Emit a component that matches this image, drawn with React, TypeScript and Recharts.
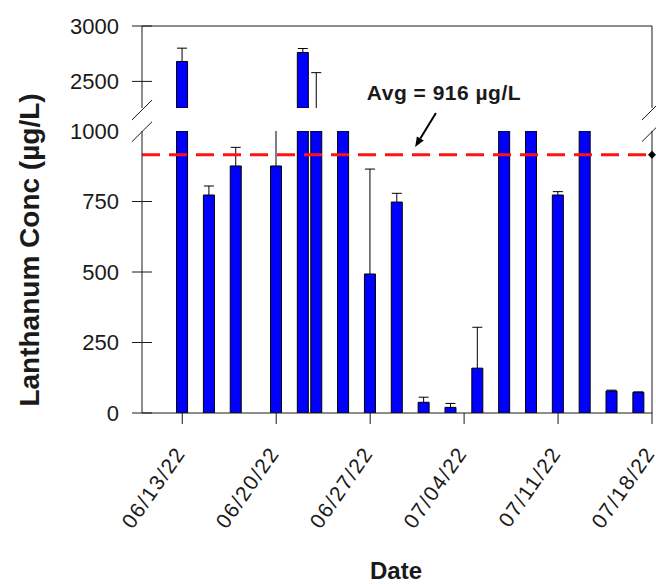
import React from "react"
import {
  ComposedChart,
  Bar,
  XAxis,
  YAxis,
  ReferenceLine,
  ReferenceDot,
  Label,
} from "recharts"

const FONT = "Arial, 'Liberation Sans', sans-serif"
const INK = "#1a1a1a"

// sampling dates and measured La concentration (ug/L), upper error bar length
const START_DATE = "06/10/22"
const END_DATE = "07/18/22"
const sampleDates = [
  "06/13/22", "06/15/22", "06/17/22", "06/20/22", "06/22/22", "06/23/22",
  "06/25/22", "06/27/22", "06/29/22", "07/01/22", "07/03/22", "07/05/22",
  "07/07/22", "07/09/22", "07/11/22", "07/13/22", "07/15/22", "07/17/22",
]
const concentrations = [
  2680, 773, 876, 876, 2761, 1400,
  1150, 493, 748, 38, 20, 159,
  1200, 1250, 773, 1140, 78, 73,
]
const upperErrors = [
  120, 32, 66, 300, 36, 1179,
  0, 372, 31, 18, 14, 145,
  0, 0, 12, 0, 3, 2,
]
const dateTicks = ["06/13/22", "06/20/22", "06/27/22", "07/04/22", "07/11/22", "07/18/22"]
const lowerTicks = [0, 250, 500, 750, 1000]
const upperTicks = [2500, 3000]
const AVERAGE = 916

// broken axis ranges
const LOWER_MAX = 1000
const UPPER_MIN = 2260
const UPPER_MAX = 3000

const dayOf = (label: string) => {
  const [m, d, y] = label.split("/").map(Number)
  const [m0, d0, y0] = START_DATE.split("/").map(Number)
  return (Date.UTC(2000 + y, m - 1, d) - Date.UTC(2000 + y0, m0 - 1, d0)) / 86400000
}
const LAST_DAY = dayOf(END_DATE)
const dayTicks = dateTicks.map(dayOf)
const labelOfDay = (day: number) => dateTicks[dayTicks.indexOf(day)] ?? ""

// each panel only shows the part of a bar / error bar inside its range
const data = sampleDates.map((d, i) => {
  const v = concentrations[i]
  const top = v + upperErrors[i]
  return {
    day: dayOf(d),
    low: Math.min(v, LOWER_MAX),
    lowErr: upperErrors[i] > 0 && v < LOWER_MAX ? [v, Math.min(top, LOWER_MAX)] : null,
    lowCap: top <= LOWER_MAX,
    high: v >= UPPER_MIN ? v : null,
    highErr: upperErrors[i] > 0 && top > UPPER_MIN ? [Math.max(v, UPPER_MIN), top] : null,
    highCap: true,
  }
})

const TICK = 10
const TICK_GAP = 13

function ValueTick(props: any) {
  const { x, y, payload, skipLine } = props
  const axisX = x + TICK_GAP + TICK
  return (
    <g>
      {!skipLine && (
        <line x1={axisX - TICK} x2={axisX + TICK} y1={y} y2={y} stroke={INK} />
      )}
      <text x={x} y={y} dy="0.36em" textAnchor="end" fontSize={22} fill={INK} fontFamily={FONT}>
        {payload.value}
      </text>
    </g>
  )
}

function DateTick(props: any) {
  const { x, y, payload } = props
  const ax = x - 2
  const ay = y + 23
  return (
    <text
      x={ax}
      y={ay}
      dy="0.35em"
      transform={`rotate(-55 ${ax} ${ay})`}
      textAnchor="end"
      fontSize={21}
      letterSpacing={1.5}
      fill={INK}
      fontFamily={FONT}
    >
      {labelOfDay(payload.value)}
    </text>
  )
}

// error bar drawn from a ranged bar: stem plus a cap when the top is not cut by the axis break
const whisker = (capKey: string) => (props: any) => {
  const { x, y, width, height, payload } = props
  if (!height) return <g />
  const cx = x + width / 2
  return (
    <g>
      <line x1={cx} x2={cx} y1={y} y2={y + height} stroke="#000" />
      {payload[capKey] && <line x1={cx - 5} x2={cx + 5} y1={y} y2={y} stroke="#000" />}
    </g>
  )
}

function Arrow(props: any) {
  const { x1, y1, x2, y2 } = props
  const a = Math.atan2(y2 - y1, x2 - x1)
  const len = 10
  const w = 4
  const bx = x2 - len * Math.cos(a)
  const by = y2 - len * Math.sin(a)
  const p1 = `${bx + w * Math.sin(a)},${by - w * Math.cos(a)}`
  const p2 = `${bx - w * Math.sin(a)},${by + w * Math.cos(a)}`
  return (
    <g>
      <line x1={x1} y1={y1} x2={bx} y2={by} stroke="#000" strokeWidth={2} />
      <polygon points={`${x2},${y2} ${p1} ${p2}`} fill="#000" />
    </g>
  )
}

const slash = (x: number, y: number) => [
  { x: x - 0.75, y },
  { x: x + 0.75, y: y + 71 },
]

export default function App() {
  return (
    <div style={{ position: "absolute", left: 0, top: 0, width: 656, height: 584, background: "#fff" }}>
      <div style={{ position: "absolute", left: 0, top: 0 }}>
        <ComposedChart
          width={656}
          height={584}
          data={data}
          margin={{ top: 131, right: 4, bottom: 51, left: 62 }}
        >
          <XAxis
            dataKey="day"
            type="number"
            domain={[0, LAST_DAY]}
            ticks={dayTicks}
            interval={0}
            allowDataOverflow
            height={120}
            tickSize={11}
            stroke={INK}
            tick={<DateTick />}
          >
            <Label
              content={() => (
                <text x={396} y={579} textAnchor="middle" fontSize={24} fontWeight="bold" fill={INK} fontFamily={FONT}>
                  Date
                </text>
              )}
            />
          </XAxis>
          <XAxis xAxisId="err" dataKey="day" type="number" domain={[0, LAST_DAY]} allowDataOverflow hide />
          <YAxis
            yAxisId="lo"
            type="number"
            domain={[0, LOWER_MAX]}
            ticks={lowerTicks}
            interval={0}
            allowDataOverflow
            width={80}
            tickSize={TICK}
            tickMargin={TICK_GAP}
            tickLine={false}
            stroke={INK}
            tick={(p: any) => <ValueTick {...p} skipLine={p.payload.value === LOWER_MAX} />}
          >
            <Label
              content={() => (
                <text x={29} y={250} transform="rotate(-90 29 250)" textAnchor="middle" dominantBaseline="central" fontSize={28} fontWeight="bold" fill={INK} fontFamily={FONT}>
                  Lanthanum Conc (µg/L)
                </text>
              )}
            />
          </YAxis>
          <YAxis
            yAxisId="loRight"
            orientation="right"
            mirror
            type="number"
            domain={[0, LOWER_MAX]}
            ticks={[250, 500, 750]}
            allowDataOverflow
            width={10}
            tickSize={TICK}
            tick={false}
            stroke={INK}
          />
          <Bar
            yAxisId="lo"
            dataKey="low"
            barSize={11}
            fill="#0000ff"
            stroke="#000"
            strokeWidth={1}
            isAnimationActive={false}
          />
          <Bar
            yAxisId="lo"
            xAxisId="err"
            dataKey="lowErr"
            barSize={11}
            shape={whisker("lowCap")}
            isAnimationActive={false}
          />
          <ReferenceLine
            yAxisId="lo"
            y={AVERAGE}
            stroke="#ff1414"
            strokeWidth={3}
            strokeDasharray="18 9"
          />
          <ReferenceDot
            yAxisId="lo"
            x={LAST_DAY}
            y={AVERAGE}
            ifOverflow="visible"
            shape={(p: any) => (
              <polygon
                points={`${p.cx},${p.cy - 4} ${p.cx + 4},${p.cy} ${p.cx},${p.cy + 4} ${p.cx - 4},${p.cy}`}
                fill="#000"
              />
            )}
          />
          <ReferenceDot
            yAxisId="lo"
            x={22.5}
            y={1138}
            ifOverflow="visible"
            shape={(p: any) => (
              <text x={p.cx} y={p.cy} textAnchor="middle" dominantBaseline="central" fontSize={21} fontWeight="bold" letterSpacing={0.5} fill={INK} fontFamily={FONT}>
                Avg = {AVERAGE} µg/L
              </text>
            )}
          />
          <ReferenceLine
            yAxisId="lo"
            ifOverflow="visible"
            segment={[{ x: 21.9, y: 1064 }, { x: 20.35, y: 943 }]}
            shape={<Arrow />}
          />
          {[0, LAST_DAY].map((x) =>
            [962, 1039].map((y) => (
              <ReferenceLine
                key={`${x}-${y}`}
                yAxisId="lo"
                ifOverflow="visible"
                segment={slash(x, y)}
                stroke={INK}
                strokeWidth={1}
              />
            ))
          )}
        </ComposedChart>
      </div>
      <div style={{ position: "absolute", left: 0, top: 0 }}>
        <ComposedChart
          width={656}
          height={140}
          data={data}
          margin={{ top: 26, right: 4, bottom: 32, left: 62 }}
        >
          <XAxis
            dataKey="day"
            type="number"
            orientation="top"
            mirror
            domain={[0, LAST_DAY]}
            ticks={dayTicks}
            interval={0}
            allowDataOverflow
            tickSize={8}
            tick={false}
            stroke={INK}
          />
          <XAxis xAxisId="err" dataKey="day" type="number" domain={[0, LAST_DAY]} allowDataOverflow hide />
          <YAxis
            yAxisId="hi"
            type="number"
            domain={[UPPER_MIN, UPPER_MAX]}
            ticks={upperTicks}
            interval={0}
            allowDataOverflow
            width={80}
            tickSize={TICK}
            tickMargin={TICK_GAP}
            tickLine={false}
            stroke={INK}
            tick={(p: any) => <ValueTick {...p} />}
          />
          <YAxis
            yAxisId="hiRight"
            orientation="right"
            mirror
            type="number"
            domain={[UPPER_MIN, UPPER_MAX]}
            ticks={[2500]}
            allowDataOverflow
            width={10}
            tickSize={TICK}
            tick={false}
            stroke={INK}
          />
          <Bar
            yAxisId="hi"
            dataKey="high"
            barSize={11}
            fill="#0000ff"
            stroke="#000"
            strokeWidth={1}
            isAnimationActive={false}
          />
          <Bar
            yAxisId="hi"
            xAxisId="err"
            dataKey="highErr"
            barSize={11}
            shape={whisker("highCap")}
            isAnimationActive={false}
          />
        </ComposedChart>
      </div>
    </div>
  )
}
